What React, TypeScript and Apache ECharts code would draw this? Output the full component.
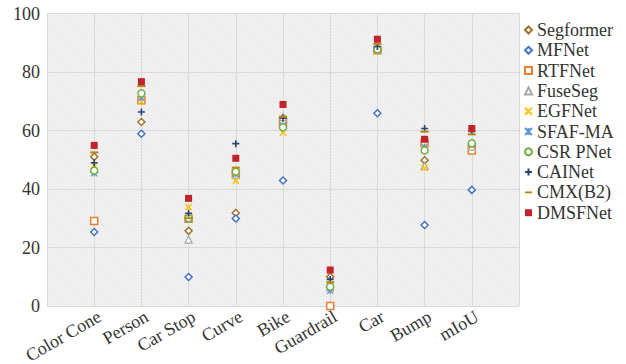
import React, { useEffect, useRef } from "react";
import * as echarts from "echarts";

const categories = ["Color Cone", "Person", "Car Stop", "Curve", "Bike", "Guardrail", "Car", "Bump", "mIoU"];
const yTicks = { min: 0, max: 100, interval: 20 };

const seriesNames = ["Segformer", "MFNet", "RTFNet", "FuseSeg", "EGFNet", "SFAF-MA", "CSR PNet", "CAINet", "CMX(B2)", "DMSFNet"];

const segformer = [51.0, 62.9, 25.7, 31.8, 64.3, 10.0, 87.5, 49.8, 55.0];
const mfnet = [25.3, 58.9, 9.9, 29.9, 42.9, 0.0, 65.9, 27.7, 39.7];
const rtfnet = [29.1, 70.3, 29.8, 45.3, 62.7, 0.0, 87.4, 55.7, 53.2];
const fuseseg = [46.9, 71.7, 22.7, 44.8, 64.6, 6.4, 87.9, 47.9, 54.5];
const egfnet = [48.0, 69.8, 33.8, 42.8, 59.2, 7.0, 87.6, 47.2, 54.8];
const sfafma = [45.4, 71.2, 29.6, 45.0, 61.8, 5.2, 87.8, 54.5, 55.1];
const csrpnet = [46.3, 72.7, 30.0, 45.9, 61.1, 6.6, 87.7, 53.2, 55.6];
const cainet = [49.0, 66.3, 31.7, 55.5, 64.2, 9.1, 88.7, 60.7, 59.7];
const cmxb2 = [52.5, 75.2, 30.0, 47.3, 64.7, 8.1, 89.6, 59.6, 58.7];
const dmsfnet = [54.9, 76.7, 36.8, 50.5, 68.9, 12.3, 91.2, 57.0, 60.7];

const seriesValues = [segformer, mfnet, rtfnet, fuseseg, egfnet, sfafma, csrpnet, cainet, cmxb2, dmsfnet];

const FONT = "Times New Roman, Liberation Serif, serif";

type Sty = { symbol: string; size: number | number[]; color: string; fill: string; border: number; keep?: boolean };
const styles: Sty[] = [
  { symbol: "diamond", size: 7, color: "#a0712c", fill: "#ffffff", border: 1.5 },
  { symbol: "diamond", size: 7, color: "#4472c4", fill: "#ffffff", border: 1.5 },
  { symbol: "rect", size: 7, color: "#ed7d31", fill: "#ffffff", border: 1.5 },
  { symbol: "triangle", size: 7, color: "#a5a5a5", fill: "#ffffff", border: 1.2 },
  { symbol: "path://M0,0L10,10M10,0L0,10", size: 6, color: "#ffc000", fill: "transparent", border: 1.5 },
  { symbol: "path://M0,0L10,10M10,0L0,10M5,0L5,10", size: 6, color: "#5b9bd5", fill: "transparent", border: 1.3 },
  { symbol: "circle", size: 7, color: "#70ad47", fill: "#ffffff", border: 1.5 },
  { symbol: "path://M5,0L5,10M0,5L10,5", size: 7, color: "#264478", fill: "transparent", border: 1.6 },
  { symbol: "path://M0,0L10,0L10,2.6L0,2.6Z", size: 8, color: "#b8860b", fill: "#b8860b", border: 0, keep: true },
  { symbol: "rect", size: 7, color: "#c0232b", fill: "#c0232b", border: 0 },
];

function makePattern(): string {
  const c = document.createElement("canvas");
  c.width = 3;
  c.height = 3;
  const ctx = c.getContext("2d");
  if (!ctx) return "";
  ctx.fillStyle = "#f4f4f4";
  ctx.fillRect(0, 0, 3, 3);
  ctx.fillStyle = "#e5e5e5";
  for (let i = 0; i < 3; i++) ctx.fillRect(i, i, 1, 1);
  return c.toDataURL();
}

export default function App() {
  const ref = useRef<HTMLDivElement>(null);
  useEffect(() => {
    if (!ref.current) return;
    const chart = echarts.init(ref.current, null, { renderer: "svg" });
    const pat = makePattern();
    const series = seriesNames.map((name, si) => {
      const s = styles[si];
      return {
        name,
        type: "scatter",
        symbol: s.symbol,
        symbolSize: s.size,
        symbolKeepAspect: !!s.keep,
        itemStyle: {
          color: s.fill,
          borderColor: s.color,
          borderWidth: s.border,
          opacity: 1,
        },
        emphasis: { disabled: true },
        data: seriesValues[si].map((v, i) => [i + 1, v]),
        z: 2 + si,
      };
    });
    chart.setOption({
      animation: false,
      backgroundColor: "#ffffff",
      textStyle: { fontFamily: FONT },
      grid: {
        left: 47,
        right: 107,
        top: 13.5,
        bottom: 58,
        show: true,
        borderWidth: 0,
        outerBoundsMode: "none",
        containLabel: false,
        backgroundColor: pat ? { image: pat, repeat: "repeat" } : "#eeeeee",
      },
      legend: {
        orient: "vertical",
        left: 519,
        top: 16,
        itemWidth: 7,
        itemHeight: 7,
        itemGap: 2.3,
        symbolKeepAspect: true,
        textStyle: { fontFamily: FONT, fontSize: 18, color: "#333333", lineHeight: 18 },
        data: seriesNames,
      },
      xAxis: {
        type: "value",
        min: 0,
        max: categories.length + 1,
        interval: 1,
        axisLine: { show: false },
        axisTick: { show: false },
        splitLine: { show: true, lineStyle: { color: "#d9d9d9", width: 1 } },
        axisLabel: {
          rotate: 30,
          margin: 12,
          padding: [0, -6, 0, 0],
          fontFamily: FONT,
          fontSize: 18,
          color: "#333333",
          showMinLabel: true,
          showMaxLabel: true,
          formatter: (v: number) => categories[v - 1] ?? "",
        },
      },
      yAxis: {
        type: "value",
        min: yTicks.min,
        max: yTicks.max,
        interval: yTicks.interval,
        axisLine: { show: false },
        axisTick: { show: false },
        splitLine: { show: true, lineStyle: { color: "#d9d9d9", width: 1 } },
        axisLabel: { margin: 7, fontFamily: FONT, fontSize: 18, color: "#333333" },
      },
      series,
    });
    return () => chart.dispose();
  }, []);
  return <div ref={ref} style={{ width: 626, height: 364, position: "absolute", left: 0, top: 0 }} />;
}
